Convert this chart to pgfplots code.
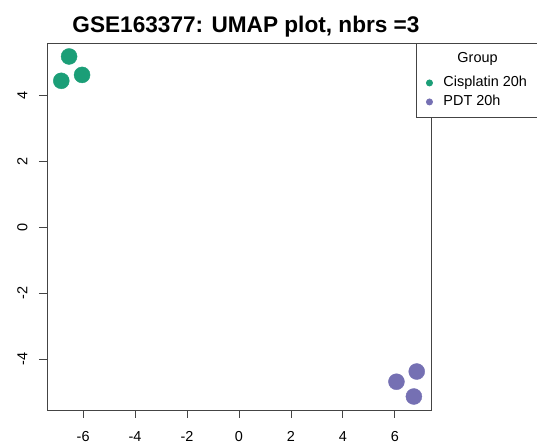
\documentclass[border=0pt]{standalone}
\usepackage{fontspec}
\setmainfont{Liberation Sans}
\usepackage{pgfplots}
\pgfplotsset{compat=1.18}
\definecolor{cisgreen}{HTML}{1B9E77}
\definecolor{pdtpurple}{HTML}{7570B3}
\definecolor{axgray}{HTML}{444444}

\begin{document}
\begin{tikzpicture}
\begin{axis}[
  scale only axis,
  width=384bp, height=367bp,
  xmin=-7.39, xmax=7.39, ymin=-5.55, ymax=5.61,
  xtick={-6,-4,...,6}, ytick={-4,-2,...,4},
  axis line style={axgray, line width=0.9bp},
  tick style={axgray, line width=0.9bp},
  tick align=outside, major tick length=8bp,
  xtick pos=bottom, ytick pos=left,
  /pgf/number format/assume math mode=true,
  ticklabel style={font=\fontsize{14.5}{16}\selectfont, text=black},
  xticklabel style={anchor=north, yshift=-10bp},
  yticklabel style={rotate=90, anchor=south, yshift=8bp},
  legend style={at={(rel axis cs:0.961,1)}, anchor=north west,
    draw=axgray, line width=0.9bp, fill=white,
    font=\fontsize{14.5}{16}\selectfont,
    inner xsep=0bp, inner ysep=6bp, row sep=0bp,
    nodes={inner xsep=3bp, inner ysep=2bp, text height=11bp, text depth=4bp}},
  legend image code/.code={
    \path[draw=none, fill=none] (-13bp,0bp) -- (11bp,0bp);
    \draw[#1] plot coordinates {(0bp,0bp)};},
  legend cell align=left,
  clip=false,
]
  \addlegendimage{empty legend}
  \addlegendentry[text depth=9bp]{\hspace{14bp}Group}
  \addlegendimage{only marks, mark=*, mark size=3bp, cisgreen,
    mark options={draw=cisgreen, fill=cisgreen}}
  \addlegendentry{Cisplatin 20h\kern24bp}
  \addlegendimage{only marks, mark=*, mark size=3bp, pdtpurple,
    mark options={draw=pdtpurple, fill=pdtpurple}}
  \addlegendentry{PDT 20h}

  % Cisplatin 20h
  \addplot[only marks, mark=*, mark size=8bp, color=cisgreen, forget plot,
    mark options={draw=cisgreen, fill=cisgreen}]
    coordinates {(-6.54,5.20) (-6.84,4.46) (-6.04,4.64)};

  % PDT 20h
  \addplot[only marks, mark=*, mark size=8bp, color=pdtpurple, forget plot,
    mark options={draw=pdtpurple, fill=pdtpurple}]
    coordinates {(6.06,-4.69) (6.84,-4.38) (6.73,-5.14)};
\end{axis}
\node[anchor=base, font=\fontsize{22.7}{25}\selectfont\bfseries]
  at (199bp,377.7bp) {GSE163377: UMAP plot, nbrs =3};
\pgfresetboundingbox
\useasboundingbox (-47bp,-34bp) rectangle (490bp,410bp);
\end{tikzpicture}
\end{document}
